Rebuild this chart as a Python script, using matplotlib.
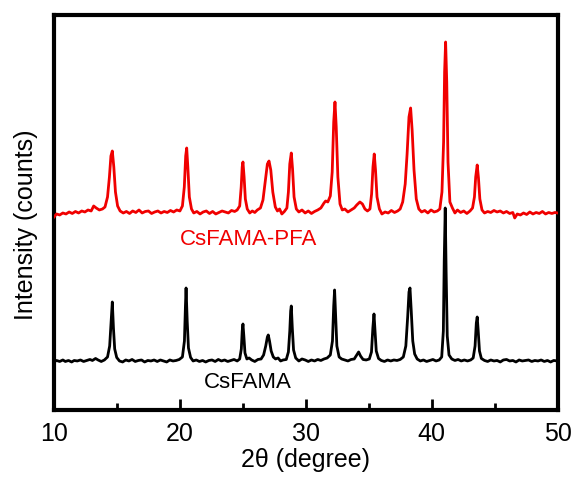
import matplotlib
matplotlib.use("Agg")
import matplotlib.pyplot as plt
from matplotlib.ticker import MultipleLocator

plt.rcParams["font.family"] = ["Liberation Sans", "DejaVu Sans"]

# CsFAMA pattern: (2theta, counts above baseline)
cs_fama = [
    (10.0, -10), (10.2, 5), (10.45, -5), (10.7, 10), (10.9, -5), (11.15, 5),
    (11.4, -10), (11.6, 5), (11.85, 0), (12.1, 10), (12.35, -5), (12.6, 5),
    (12.85, 15), (13.05, 5), (13.3, 25), (13.5, 10), (13.75, -5), (14.0, 10),
    (14.25, 40), (14.42, 150), (14.53, 380), (14.63, 590), (14.72, 330),
    (14.82, 120), (14.98, 35), (15.2, 0), (15.45, -10), (15.7, 10), (15.95, 0),
    (16.2, 15), (16.45, -5), (16.7, 5), (16.95, 10), (17.2, -10), (17.45, 5),
    (17.7, 0), (17.95, 10), (18.2, -5), (18.45, 10), (18.7, 0), (18.95, -10),
    (19.2, 10), (19.45, 0), (19.7, 5), (19.95, 15), (20.2, 40), (20.36, 200),
    (20.44, 550), (20.49, 730), (20.58, 400), (20.68, 130), (20.85, 35),
    (21.05, 0), (21.3, 10), (21.55, -5), (21.8, 5), (22.05, -10), (22.3, 5),
    (22.55, 10), (22.8, -5), (23.05, 15), (23.3, 0), (23.55, 10), (23.8, -5),
    (24.05, 5), (24.3, 15), (24.55, 0), (24.75, 20), (24.88, 120), (24.95, 300),
    (25.01, 370), (25.08, 250), (25.17, 80), (25.32, 20), (25.5, 30), (25.7, 10),
    (25.95, -5), (26.2, 15), (26.45, 20), (26.65, 60), (26.82, 150), (26.95, 240),
    (27.02, 260), (27.12, 200), (27.25, 100), (27.42, 40), (27.6, 20), (27.8, 30),
    (28.0, 0), (28.2, 10), (28.45, 15), (28.62, 90), (28.73, 300), (28.8, 500),
    (28.85, 550), (28.93, 330), (29.03, 110), (29.2, 30), (29.45, 0), (29.7, 20),
    (29.95, 10), (30.2, -5), (30.45, 10), (30.7, 0), (30.95, 15), (31.2, 5),
    (31.45, 20), (31.7, 30), (31.95, 60), (32.12, 200), (32.22, 550), (32.29, 710),
    (32.37, 450), (32.47, 150), (32.65, 40), (32.85, 20), (33.1, 10), (33.35, 0),
    (33.6, 15), (33.85, 20), (34.05, 60), (34.2, 90), (34.35, 50), (34.55, 15),
    (34.8, 10), (35.05, 20), (35.22, 90), (35.33, 330), (35.42, 470), (35.5, 300),
    (35.6, 100), (35.78, 25), (36.0, 5), (36.25, -5), (36.5, 10), (36.75, 0),
    (37.0, 10), (37.25, 5), (37.5, 15), (37.75, 40), (37.95, 150), (38.1, 450),
    (38.2, 690), (38.28, 730), (38.38, 500), (38.5, 200), (38.65, 70), (38.85, 20),
    (39.1, 0), (39.35, 10), (39.6, -5), (39.85, 5), (40.1, 15), (40.35, 0),
    (40.6, 10), (40.8, 40), (40.93, 300), (41.0, 1000), (41.08, 1530), (41.15, 900),
    (41.24, 250), (41.38, 60), (41.6, 20), (41.85, 5), (42.1, 15), (42.35, 0),
    (42.6, 10), (42.85, 0), (43.1, 10), (43.3, 30), (43.45, 150), (43.55, 380),
    (43.62, 440), (43.7, 300), (43.8, 100), (43.95, 25), (44.2, 5), (44.45, -5),
    (44.7, 10), (44.95, 0), (45.2, 5), (45.45, -10), (45.7, 10), (45.95, 15),
    (46.2, 0), (46.45, 5), (46.7, -10), (46.95, 10), (47.2, 0), (47.45, 5),
    (47.7, 10), (47.95, -5), (48.2, 5), (48.45, 0), (48.7, 10), (48.95, -5),
    (49.2, 5), (49.45, -10), (49.7, 5), (50.0, 0),
]

# CsFAMA-PFA pattern: (2theta, counts above baseline)
cs_fama_pfa = [
    (10.0, -50), (10.2, -20), (10.45, -30), (10.7, -10), (10.95, -20), (11.2, 0),
    (11.45, -15), (11.7, 5), (11.95, -10), (12.2, 10), (12.45, 0), (12.7, 20),
    (12.95, 10), (13.15, 60), (13.35, 40), (13.6, 20), (13.85, 30), (14.05, 50),
    (14.25, 150), (14.4, 350), (14.52, 560), (14.63, 610), (14.75, 450),
    (14.88, 200), (15.05, 60), (15.25, 10), (15.5, -10), (15.75, 5), (16.0, -15),
    (16.25, 10), (16.5, -5), (16.75, 20), (17.0, -10), (17.25, 5), (17.5, 10),
    (17.75, -15), (18.0, 0), (18.25, 10), (18.5, -10), (18.75, 5), (19.0, -5),
    (19.25, 15), (19.5, 0), (19.75, 20), (20.0, 10), (20.2, 60), (20.35, 250),
    (20.46, 560), (20.54, 640), (20.63, 450), (20.75, 150), (20.92, 30),
    (21.1, -10), (21.35, 5), (21.6, -20), (21.85, 0), (22.1, 10), (22.35, -15),
    (22.6, 5), (22.85, -20), (23.1, -5), (23.35, 10), (23.6, 0), (23.85, -10),
    (24.1, 15), (24.35, 5), (24.55, 20), (24.75, 60), (24.87, 250), (24.95, 450),
    (25.01, 500), (25.1, 350), (25.2, 130), (25.35, 30), (25.55, -10), (25.75, 10),
    (25.95, -5), (26.15, 20), (26.4, 40), (26.6, 120), (26.8, 330), (26.95, 480),
    (27.08, 510), (27.22, 420), (27.38, 200), (27.58, 50), (27.75, 10), (27.92, 30),
    (28.1, -20), (28.3, 5), (28.5, 40), (28.62, 200), (28.73, 480), (28.85, 590),
    (28.95, 430), (29.07, 150), (29.25, 30), (29.45, 0), (29.7, 20), (29.95, -10),
    (30.2, 10), (30.45, -15), (30.7, 5), (30.95, 20), (31.2, 40), (31.45, 90),
    (31.58, 110), (31.75, 100), (31.95, 160), (32.1, 400), (32.22, 900),
    (32.32, 1100), (32.42, 850), (32.55, 350), (32.72, 80), (32.9, 20), (33.1, 30),
    (33.35, 0), (33.6, 20), (33.85, 40), (34.05, 70), (34.3, 100), (34.5, 80),
    (34.7, 30), (34.9, 10), (35.1, 30), (35.23, 180), (35.34, 450), (35.44, 580),
    (35.54, 420), (35.66, 150), (35.85, 30), (36.05, -20), (36.3, 0), (36.55, -10),
    (36.8, 15), (37.05, -5), (37.3, 10), (37.5, 30), (37.7, 100), (37.9, 280),
    (38.05, 580), (38.2, 950), (38.33, 1040), (38.45, 820), (38.6, 420),
    (38.78, 130), (38.98, 30), (39.2, 0), (39.45, 15), (39.7, -10), (39.95, 20),
    (40.2, 0), (40.45, 10), (40.65, 30), (40.82, 200), (40.95, 700), (41.03, 1400),
    (41.11, 1700), (41.2, 1300), (41.3, 500), (41.45, 100), (41.65, 40),
    (41.85, -10), (42.05, 20), (42.3, -5), (42.55, 10), (42.8, -15), (43.05, 10),
    (43.25, 40), (43.4, 150), (43.5, 350), (43.62, 470), (43.72, 340), (43.83, 130),
    (44.0, 20), (44.2, -10), (44.45, 5), (44.7, -5), (44.95, 15), (45.2, 0),
    (45.45, 10), (45.7, -10), (45.95, 5), (46.2, -15), (46.45, -5), (46.6, -60),
    (46.8, -20), (47.05, -30), (47.3, -10), (47.55, -25), (47.8, 0), (48.05, -20),
    (48.3, -5), (48.55, -15), (48.8, 5), (49.05, -20), (49.3, -5), (49.55, -15),
    (49.8, -5), (50.0, -10),
]

PFA_OFFSET = 1490
x_ticks = [10, 20, 30, 40, 50]

fig = plt.figure(figsize=(5.76, 4.79), dpi=100)
ax = fig.add_axes([0.0938, 0.1441, 0.8741, 0.8246])

x, y = zip(*cs_fama)
ax.plot(x, y, color="black", lw=2.0, zorder=2)
x, y = zip(*cs_fama_pfa)
ax.plot(x, [v + PFA_OFFSET for v in y], color="#f00000", lw=2.0, zorder=3)

ax.text(25.45, 1210, "CsFAMA-PFA", color="#f00000", fontsize=16,
        ha="center", va="center")
ax.text(25.4, -220, "CsFAMA", color="black", fontsize=16,
        ha="center", va="center")

ax.set_xlim(10, 50)
ax.set_ylim(-490, 3460)
ax.set_xticks(x_ticks)
ax.xaxis.set_minor_locator(MultipleLocator(5))
ax.set_yticks([])
ax.tick_params(axis="x", which="major", direction="in", length=8, width=2,
               labelsize=18, pad=9)
ax.tick_params(axis="x", which="minor", direction="in", length=5, width=2)
for s in ax.spines.values():
    s.set_linewidth(3)

ax.set_xlabel("2θ (degree)", fontsize=18, labelpad=1)
ax.set_ylabel("Intensity (counts)", fontsize=18)
ax.yaxis.set_label_coords(-0.032, 0.47)

fig.savefig("out.png", dpi=100)
